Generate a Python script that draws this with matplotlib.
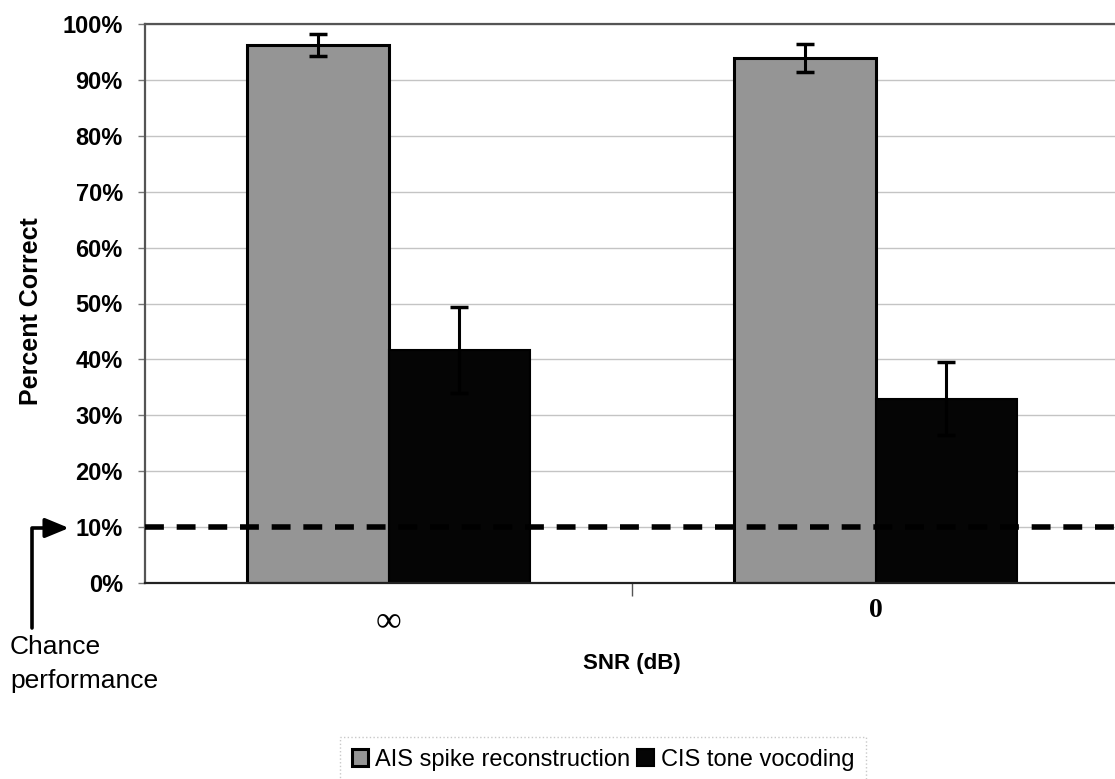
import matplotlib
matplotlib.use("Agg")
import matplotlib.pyplot as plt
import numpy as np

# Data (percent correct)
snr_labels = ["\u221e", "0"]
ais_mean = [96.2, 94.0]
ais_err = [2.0, 2.5]
cis_mean = [41.7, 33.0]
cis_err = [7.7, 6.6]
chance_level = 10
y_ticks = [0, 10, 20, 30, 40, 50, 60, 70, 80, 90, 100]
y_tick_labels = [f"{v}%" for v in y_ticks]
series_names = ["AIS spike reconstruction", "CIS tone vocoding"]

W, H = 1115, 779
fig = plt.figure(figsize=(W / 100, H / 100), dpi=100)
ax = fig.add_axes([145 / W, 1 - 583 / H, (1119 - 145) / W, (583 - 24) / H])

sans = ["Liberation Sans", "DejaVu Sans"]
serif = ["Liberation Serif", "DejaVu Serif"]

x = np.arange(len(snr_labels))
bw = 0.29
ais_color = "#959595"
cis_color = "#050505"

b1 = ax.bar(x - bw / 2, ais_mean, bw, color=ais_color, edgecolor="black",
            linewidth=2.2, zorder=2, label=series_names[0])
b2 = ax.bar(x + bw / 2, cis_mean, bw, color=cis_color, edgecolor="black",
            linewidth=1.5, zorder=2, label=series_names[1])
ax.errorbar(x - bw / 2, ais_mean, yerr=ais_err, fmt="none", ecolor="black",
            elinewidth=2.2, capsize=6.5, capthick=2.5, zorder=3)
ax.errorbar(x + bw / 2, cis_mean, yerr=cis_err, fmt="none", ecolor="black",
            elinewidth=2.2, capsize=6.5, capthick=2.5, zorder=3)

# chance-level reference line
ax.axhline(chance_level, color="black", linewidth=4.0, dashes=(3.4, 2.3),
           zorder=4)

ax.set_xlim(-0.5, 1.5)
ax.set_ylim(0, 100)
ax.set_yticks(y_ticks)
ax.set_yticklabels(y_tick_labels, fontsize=17, fontweight="bold", family=sans)
ax.yaxis.grid(True, color="#c4c4c4", linewidth=1.0, zorder=0)
ax.set_axisbelow(True)

ax.set_xticks([0.5])
ax.set_xticklabels([""])
ax.tick_params(axis="x", length=9, width=1, color="#555555", direction="out")
ax.tick_params(axis="y", length=5, width=1, color="#777777", pad=11)
for i, lab in enumerate(snr_labels):
    if lab == "0":
        ax.text(i, -5.0, lab, ha="center", va="center", fontsize=20,
                fontweight="bold", family=serif, clip_on=False)
    else:
        ax.text(i, -6.9, lab, ha="center", va="center", fontsize=26,
                family=serif, clip_on=False)

for side in ["left", "top"]:
    ax.spines[side].set_color("#555555")
    ax.spines[side].set_linewidth(1.6)
ax.spines["bottom"].set_color("#222222")
ax.spines["bottom"].set_linewidth(1.6)
ax.spines["right"].set_visible(False)

fig.text(31 / W, 1 - 311 / H, "Percent Correct", rotation=90, ha="center",
         va="center", fontsize=18, fontweight="bold", family=sans)
fig.text(632 / W, 1 - 663 / H, "SNR (dB)", ha="center", va="center",
         fontsize=16, fontweight="bold", family=sans)

# annotation for chance performance
ax.annotate("", xy=(69, H - 528), xytext=(32, H - 628),
            xycoords="figure pixels", textcoords="figure pixels",
            arrowprops=dict(arrowstyle="-|>,head_length=0.8,head_width=0.33",
                            connectionstyle="angle,angleA=90,angleB=0,rad=0",
                            color="black", lw=2.6, mutation_scale=18,
                            shrinkA=0, shrinkB=0))
fig.text(10 / W, 1 - 647 / H, "Chance", ha="left", va="center", fontsize=19,
         family=sans)
fig.text(10 / W, 1 - 681 / H, "performance", ha="left", va="center",
         fontsize=19, family=sans)

leg = fig.legend(handles=[b1, b2], labels=series_names, loc="center",
                 bbox_to_anchor=(603 / W, 1 - 760 / H), ncol=2,
                 prop={"family": sans, "size": 17}, frameon=True,
                 fancybox=False, handlelength=0.7, handleheight=0.7,
                 handletextpad=0.3, columnspacing=0.3, borderpad=0.5)
leg.get_frame().set_edgecolor("#bbbbbb")
leg.get_frame().set_linestyle(":")
leg.get_frame().set_linewidth(1.0)

fig.savefig("out.png", dpi=100)
